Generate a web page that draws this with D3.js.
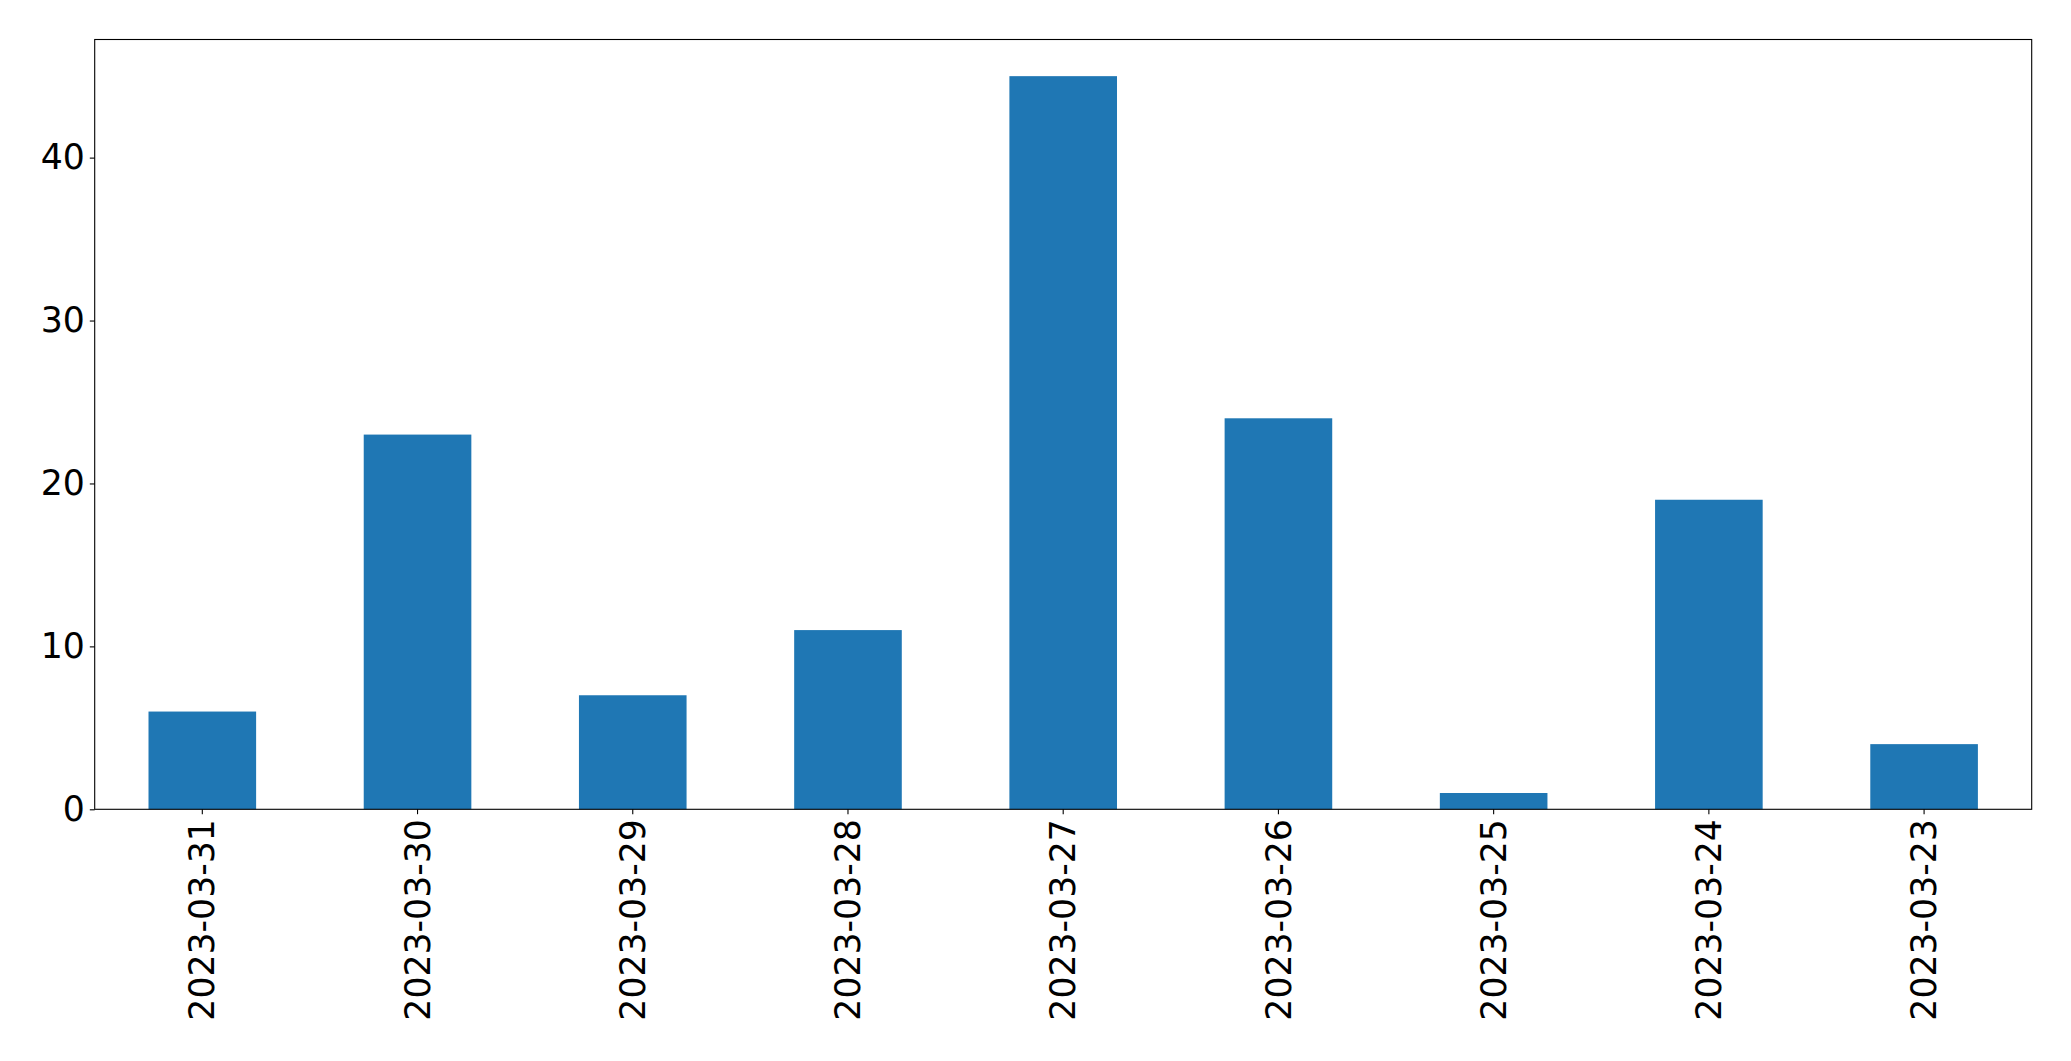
<!DOCTYPE html>
<html>
<head>
<meta charset="utf-8">
<script src="https://cdn.jsdelivr.net/npm/d3@7"></script>
<style>
  html, body { margin: 0; padding: 0; background: #fff; }
  svg { display: block; }
  text { font-family: "DejaVu Sans", sans-serif; fill: #000; }
</style>
</head>
<body>
<svg id="chart" width="2071" height="1061"></svg>
<script>
const categories = ["2023-03-31","2023-03-30","2023-03-29","2023-03-28","2023-03-27","2023-03-26","2023-03-25","2023-03-24","2023-03-23"];
const values = [6, 23, 7, 11, 45, 24, 1, 19, 4];
const yTicks = [0, 10, 20, 30, 40];

const W = 2071, H = 1061;
const margin = { left: 94.7, right: 2071 - 2031.7, top: 39.5, bottom: 1061 - 809.3 };
const svg = d3.select("#chart");

const x = d3.scaleBand()
  .domain(categories)
  .range([margin.left, W - margin.right])
  .paddingInner(0.5)
  .paddingOuter(0.25);

const yMax = d3.max(values) * 1.05;
const y = d3.scaleLinear().domain([0, yMax]).range([H - margin.bottom, margin.top]);

svg.append("g")
  .selectAll("rect")
  .data(values)
  .join("rect")
  .attr("x", (d, i) => x(categories[i]))
  .attr("width", x.bandwidth())
  .attr("y", d => y(d))
  .attr("height", d => y(0) - y(d))
  .attr("fill", "#1f77b4");

const fontSize = 34.7;

// y axis
const yAxis = svg.append("g")
  .attr("transform", `translate(${margin.left},0)`)
  .call(d3.axisLeft(y).tickValues(yTicks).tickSize(4.9).tickPadding(4.9).tickFormat(d3.format("d")));
yAxis.select(".domain").remove();
yAxis.selectAll("line").attr("stroke", "#000").attr("stroke-width", 1.1);
yAxis.selectAll("text").style("font-size", fontSize + "px").attr("font-family", "DejaVu Sans");

// x axis
const xAxis = svg.append("g")
  .attr("transform", `translate(0,${H - margin.bottom})`)
  .call(d3.axisBottom(x).tickSize(4.9).tickPadding(4.9));
xAxis.select(".domain").remove();
xAxis.selectAll("line").attr("stroke", "#000").attr("stroke-width", 1.1);
xAxis.selectAll("text")
  .style("font-size", fontSize + "px")
  .attr("font-family", "DejaVu Sans")
  .attr("transform", "rotate(-90)")
  .attr("text-anchor", "end")
  .attr("x", -9.8)
  .attr("y", 0)
  .attr("dy", "0.35em");

// frame
svg.append("rect")
  .attr("x", margin.left)
  .attr("y", margin.top)
  .attr("width", W - margin.left - margin.right)
  .attr("height", H - margin.top - margin.bottom)
  .attr("fill", "none")
  .attr("stroke", "#000")
  .attr("stroke-width", 1.1);
</script>
</body>
</html>
